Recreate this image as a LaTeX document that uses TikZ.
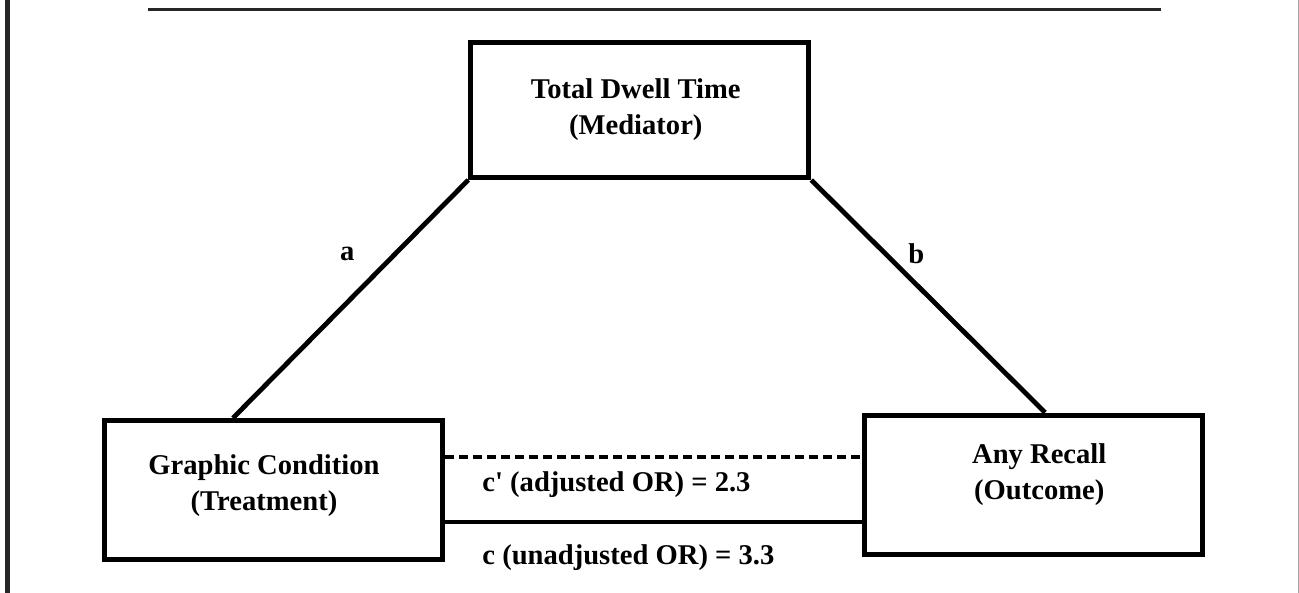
\documentclass[tikz,border=0pt]{standalone}
\usepackage{fontspec}
\setmainfont{Liberation Serif}
\usepackage{xcolor}
\usetikzlibrary{arrows.meta,positioning,calc}

\begin{document}
\begin{tikzpicture}[x=0.5pt, y=-0.5pt,
    box/.style = {draw, line width=2.5pt, minimum width=169pt, minimum height=69.5pt, inner sep=0pt},
    txt/.style = {align=center, inner sep=0pt, font=\fontsize{14.3}{18}\selectfont\bfseries},
    link/.style = {line width=2.4pt},
    direct/.style = {line width=2.2pt}]
    \useasboundingbox (0,0) rectangle (1299,593);

    % Frame
    \draw[line width=2.5pt, color=black!85] (7.5,0) -- (7.5,593);
    \draw[line width=0.8pt, color=black!35] (1298.5,0) -- (1298.5,593);
    \draw[line width=1.5pt, color=black!85] (148,9.5) -- (1161,9.5);

    % Nodes
    \node[box, minimum height=67.5pt] (1) at (639.75,110) {};
    \node[box] (2) at (273.5,490) {};
    \node[box] (3) at (1033.25,484.5) {};

    % Texts in the boxes
    \node[txt] (1t) at ([xshift=-2pt, yshift=0.4pt]1) {Total Dwell Time\\(Mediator)};
    \node[txt] (2t) at ([xshift=-4.75pt, yshift=2pt]2) {Graphic Condition\\(Treatment)};
    \node[txt] (3t) at ([xshift=3pt, yshift=4.9pt]3) {Any Recall\\(Outcome)};

    % Paths through the mediator
    \draw[link] (1.south west) -- node[txt, pos=0.31, xshift=-24pt] (la) {a} ([xshift=-20.25pt]2.north);
    \draw[link] (1.south east) -- node[txt, pos=0.318, xshift=15.3pt] (lb) {b} ([xshift=5.9pt]3.north);

    % Direct paths
    \coordinate (d1) at ([yshift=16.5pt]2.east);
    \coordinate (s1) at ([yshift=-16pt]2.east);
    \draw[direct, dash pattern=on 4.5pt off 2.5pt] (d1) -- (d1 -| 3.west);
    \draw[direct] (s1) -- (s1 -| 3.west);

    % Labels of the direct paths
    \node[txt, anchor=west] (lc1) at (482,485) {c\textquotesingle{} (adjusted OR) = 2.3};
    \node[txt, anchor=west] (lc) at (482,558) {c (unadjusted OR) = 3.3};
\end{tikzpicture}
\end{document}
